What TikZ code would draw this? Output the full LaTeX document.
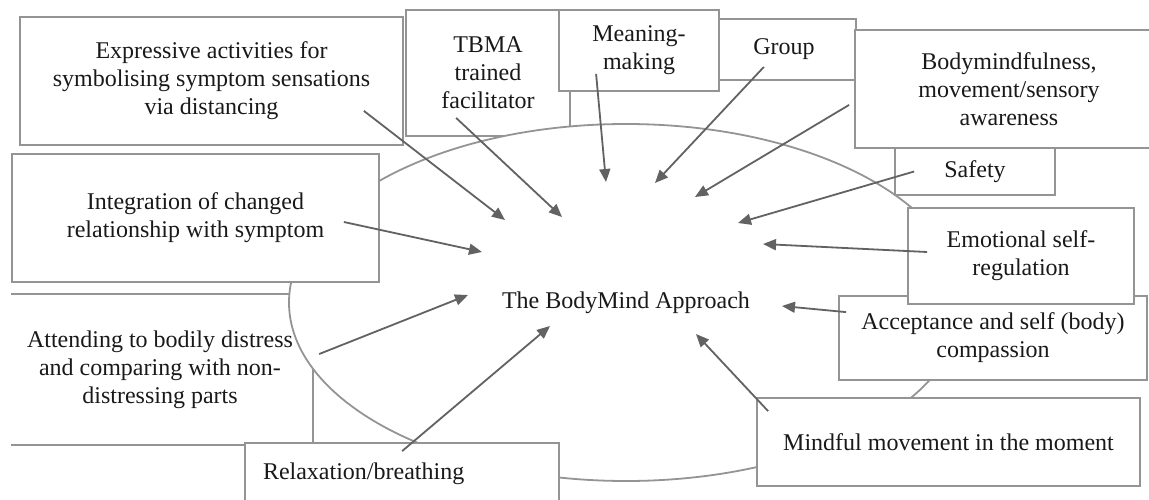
\documentclass[tikz,border=0pt]{standalone}
\usepackage{fontspec}
\setmainfont{Liberation Serif}
\usetikzlibrary{arrows.meta,calc,shapes.geometric}

\begin{document}
\begin{tikzpicture}[x=1pt,y=-1pt]
    \definecolor{bma_edge}{RGB}{148,148,148}
    \definecolor{bma_arrow}{RGB}{98,98,98}
    \definecolor{bma_text}{RGB}{25,25,25}
    \tikzset{
        bmatext/.style={inner sep=0pt,align=center,text=bma_text,font=\fontsize{24}{28}\selectfont},
        bmabox/.style={bmatext,shape=rectangle,draw=bma_edge,line width=1.8pt,fill=white},
        bmaline/.style={draw=bma_edge,line width=1.8pt},
        bmaarrow/.style={draw=bma_arrow,line width=1.8pt,-{Triangle[length=13pt,width=11pt]}}
    }
    \useasboundingbox (0,0) rectangle (1149,499);
    \clip (0,0) rectangle (1149,499);
    % boxes lying under the ellipse
    \node[bmabox,minimum width=164pt,minimum height=126pt] (tbma) at (488,73) {TBMA\\trained\\facilitator};
    \node[bmabox,minimum width=144pt,minimum height=61pt] (group) at (784,49.5) {Group};
    \node[bmabox,minimum width=160pt,minimum height=81pt] (mean) at (639,50.5) {Meaning-\\making};
    \draw[bmaline] (11,294) -- (313,294) -- (313,445) -- (11,445);
    % the ellipse
    \node[bmabox,shape=ellipse,minimum width=674pt,minimum height=357pt] (bma) at (626,302.5) {The BodyMind Approach};
    \node[bmatext] (attend) at (160,370) {Attending to bodily distress\\and comparing with non-\\distressing parts};
    % boxes lying over the ellipse
    \node[bmabox,minimum width=367pt,minimum height=128pt] (integ) at (195.5,218) {Integration of changed\\relationship with symptom};
    \node[bmabox,minimum width=383pt,minimum height=128pt] (expr) at (211.5,81) {Expressive activities for\\symbolising symptom sensations\\via distancing};
    \node[bmabox,minimum width=314pt,minimum height=62pt,text width=278pt,inner xsep=18pt,align=left] (relax) at (402,474) {Relaxation/breathing};
    \node[bmabox,minimum width=383pt,minimum height=88pt] (mind) at (948.5,442) {Mindful movement in the moment};
    \node[bmabox,minimum width=308pt,minimum height=84pt] (accept) at (993,338) {Acceptance and self (body)\\compassion};
    \node[bmabox,minimum width=226pt,minimum height=96pt] (emot) at (1021,256) {Emotional self-\\regulation};
    \node[bmabox,minimum width=308pt,minimum height=118pt] (bodym) at (1009,89) {Bodymindfulness,\\movement/sensory\\awareness};
    \node[bmabox,minimum width=160pt,minimum height=47pt] (safety) at (975,171.5) {Safety};
    % arrow tips round the centre
    \coordinate (in_expr) at (505,220);
    \coordinate (in_tbma) at (562,217);
    \coordinate (in_mean) at (606,182);
    \coordinate (in_group) at (655,183);
    \coordinate (in_bodym) at (695,197);
    \coordinate (in_safety) at (738,223);
    \coordinate (in_emot) at (763,244);
    \coordinate (in_accept) at (782,306);
    \coordinate (in_mind) at (696,334);
    \coordinate (in_relax) at (550,326);
    \coordinate (in_attend) at (468,295);
    \coordinate (in_integ) at (482,252);
    % arrows
    \draw[bmaarrow] ($(expr.south east)+(-40,-35)$) -- (in_expr);
    \draw[bmaarrow] ($(tbma.south west)+(51,-19)$) -- (in_tbma);
    \draw[bmaarrow] ($(mean.south west)+(38,-18)$) -- (in_mean);
    \draw[bmaarrow] ($(group.south east)+(-93,-14)$) -- (in_group);
    \draw[bmaarrow] ($(bodym.south west)+(-5,-44)$) -- (in_bodym);
    \draw[bmaarrow] ($(safety.west)+(20,0)$) -- (in_safety);
    \draw[bmaarrow] ($(emot.west)+(20,-4)$) -- (in_emot);
    \draw[bmaarrow] ($(accept.north west)+(8,17)$) -- (in_accept);
    \draw[bmaarrow] ($(mind.north west)+(12,14)$) -- (in_mind);
    \draw[bmaarrow] ($(relax.north west)+(158,9)$) -- (in_relax);
    \draw[bmaarrow] ($(attend.east)+(26,-16)$) -- (in_attend);
    \draw[bmaarrow] ($(integ.east)+(-36,4)$) -- (in_integ);
\end{tikzpicture}
\end{document}
